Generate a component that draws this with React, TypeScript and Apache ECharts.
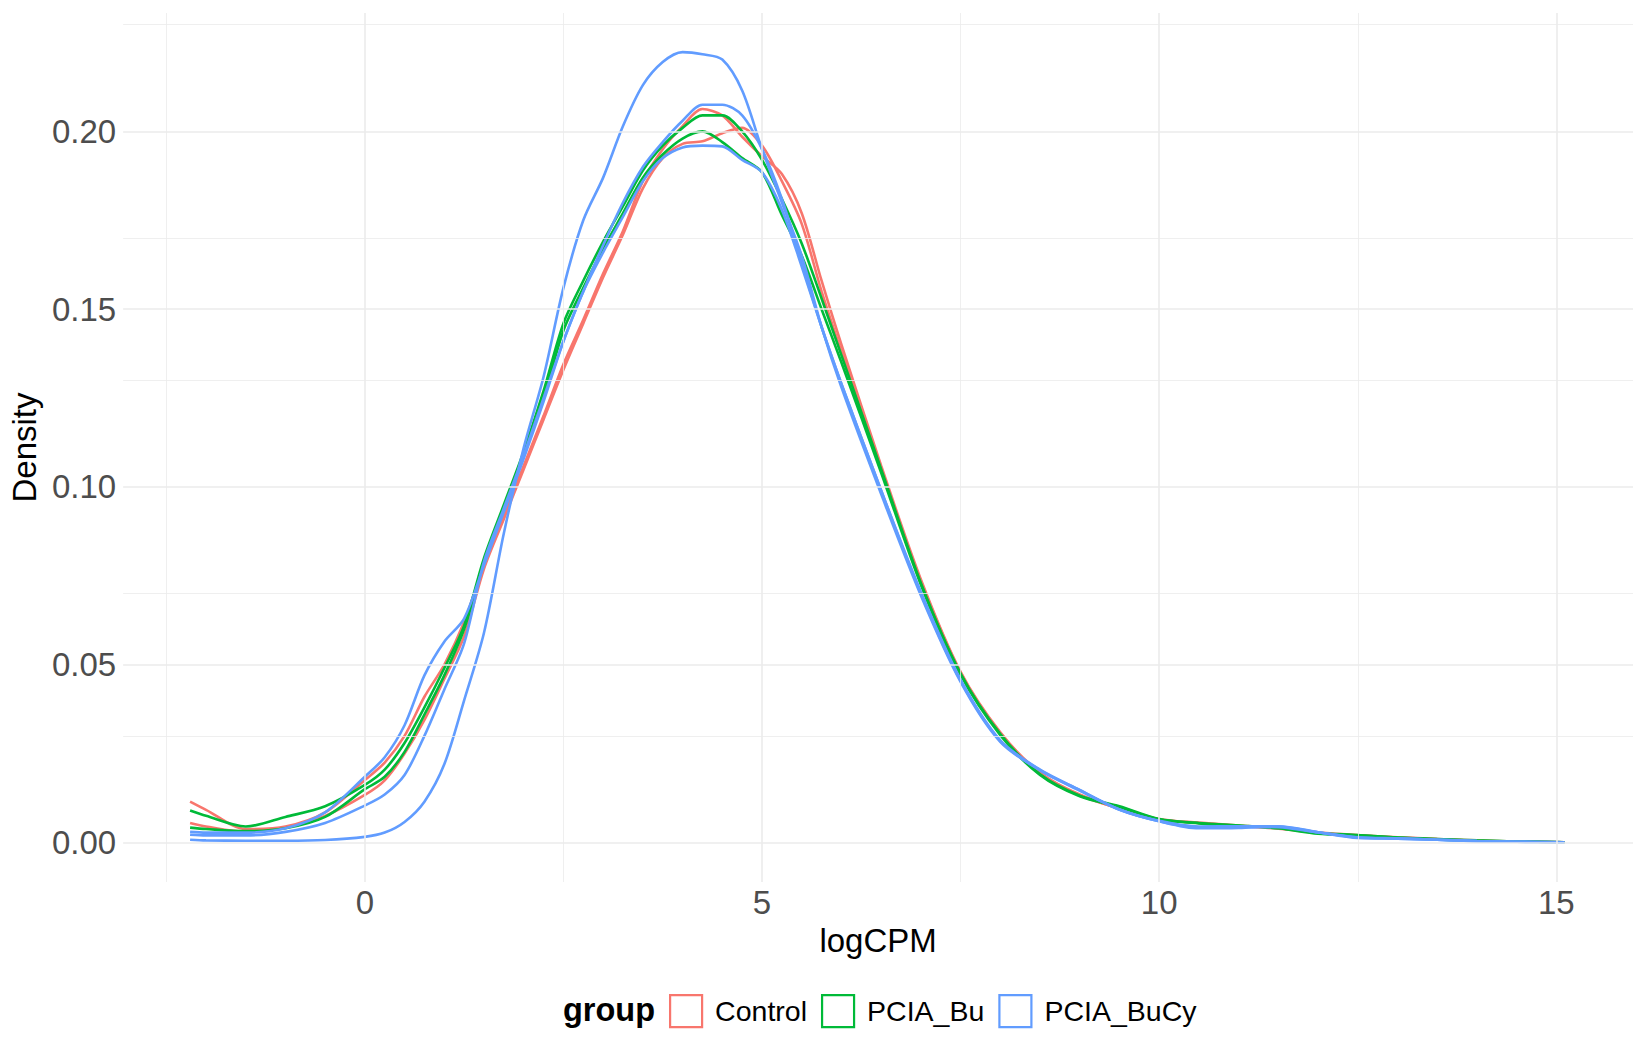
import React, { useEffect, useRef } from "react";
import * as echarts from "echarts";

// ---- data ----
const logCPM = [-2.2, -2, -1.5, -1, -0.5, 0, 0.25, 0.5, 0.75, 1, 1.25, 1.5, 1.75, 2, 2.25, 2.5, 2.75, 3, 3.25, 3.5, 3.75, 4, 4.25, 4.5, 4.75, 5, 5.25, 5.5, 5.75, 6, 6.5, 7, 7.5, 8, 8.5, 9, 9.5, 10, 10.5, 11, 11.5, 12, 12.5, 13, 13.5, 14, 14.5, 15.1];

const control1 = [0.0115, 0.0092, 0.0038, 0.0045, 0.0085, 0.0176, 0.0225, 0.030, 0.041, 0.050, 0.062, 0.078, 0.092, 0.106, 0.120, 0.1345, 0.147, 0.160, 0.172, 0.186, 0.195, 0.2015, 0.2063, 0.2045, 0.1985, 0.193, 0.188, 0.177, 0.158, 0.140, 0.106, 0.074, 0.048, 0.031, 0.0195, 0.0135, 0.0095, 0.0065, 0.0056, 0.0048, 0.0040, 0.0029, 0.0021, 0.0015, 0.0010, 0.0006, 0.0003, 0.0001];
const control2 = [0.0055, 0.0045, 0.0030, 0.0042, 0.0075, 0.0134, 0.0175, 0.025, 0.0345, 0.046, 0.058, 0.077, 0.091, 0.105, 0.119, 0.133, 0.146, 0.159, 0.171, 0.184, 0.1925, 0.1965, 0.1972, 0.1995, 0.201, 0.196, 0.186, 0.174, 0.155, 0.138, 0.105, 0.0735, 0.0478, 0.0308, 0.0197, 0.0133, 0.0096, 0.0066, 0.0055, 0.0047, 0.0039, 0.0027, 0.0020, 0.0014, 0.0010, 0.0005, 0.0003, 0.0001];
const bu1 = [0.0090, 0.0075, 0.0045, 0.0072, 0.0102, 0.0162, 0.0205, 0.028, 0.038, 0.049, 0.061, 0.080, 0.095, 0.110, 0.127, 0.146, 0.158, 0.169, 0.179, 0.189, 0.196, 0.201, 0.2045, 0.2045, 0.200, 0.192, 0.181, 0.1685, 0.153, 0.137, 0.105, 0.073, 0.0475, 0.0305, 0.0192, 0.0132, 0.0102, 0.0066, 0.0054, 0.0047, 0.0041, 0.0027, 0.0021, 0.0014, 0.0010, 0.0006, 0.0003, 0.0001];
const bu2 = [0.0042, 0.0038, 0.0032, 0.0040, 0.0072, 0.0150, 0.0185, 0.0255, 0.036, 0.047, 0.060, 0.079, 0.094, 0.109, 0.125, 0.144, 0.156, 0.167, 0.177, 0.187, 0.1935, 0.198, 0.200, 0.197, 0.1925, 0.1885, 0.1765, 0.165, 0.150, 0.135, 0.104, 0.0725, 0.0472, 0.0302, 0.0190, 0.0130, 0.0100, 0.0065, 0.0055, 0.0048, 0.0040, 0.0025, 0.0020, 0.0014, 0.0009, 0.0005, 0.0003, 0.0001];
const bucy1 = [0.0008, 0.0006, 0.0005, 0.0005, 0.0007, 0.0016, 0.0028, 0.0058, 0.0115, 0.022, 0.040, 0.059, 0.087, 0.111, 0.131, 0.156, 0.175, 0.187, 0.2015, 0.213, 0.2195, 0.2223, 0.2217, 0.2202, 0.2115, 0.195, 0.180, 0.165, 0.145, 0.128, 0.098, 0.0695, 0.0452, 0.0283, 0.0203, 0.0146, 0.0093, 0.0060, 0.0043, 0.0044, 0.0043, 0.0028, 0.0014, 0.0011, 0.0008, 0.0004, 0.0002, 0.0001];
const bucy2 = [0.0030, 0.0028, 0.0028, 0.0040, 0.0085, 0.0185, 0.024, 0.033, 0.047, 0.0565, 0.063, 0.078, 0.093, 0.108, 0.124, 0.141, 0.155, 0.168, 0.180, 0.190, 0.197, 0.203, 0.2075, 0.2075, 0.2045, 0.195, 0.181, 0.163, 0.145, 0.129, 0.099, 0.0705, 0.0458, 0.0287, 0.0205, 0.0148, 0.0092, 0.0061, 0.0045, 0.0046, 0.0045, 0.0029, 0.0015, 0.0012, 0.0008, 0.0004, 0.0002, 0.0001];
const bucy3 = [0.0022, 0.0020, 0.0020, 0.0030, 0.0055, 0.0104, 0.0135, 0.019, 0.030, 0.043, 0.056, 0.079, 0.094, 0.109, 0.125, 0.141, 0.155, 0.166, 0.176, 0.186, 0.1925, 0.1955, 0.196, 0.1958, 0.192, 0.1885, 0.178, 0.162, 0.145, 0.129, 0.099, 0.0700, 0.0455, 0.0285, 0.0204, 0.0147, 0.0093, 0.0060, 0.0040, 0.0041, 0.0046, 0.0029, 0.0013, 0.0011, 0.0008, 0.0004, 0.0002, 0.0001];

const groups = ["Control", "PCIA_Bu", "PCIA_BuCy"];
const groupColors = ["#F8766D", "#00BA38", "#619CFF"];
const samples = [
  { id: "c1", group: 0, values: control1 },
  { id: "c2", group: 0, values: control2 },
  { id: "b1", group: 1, values: bu1 },
  { id: "b2", group: 1, values: bu2 },
  { id: "y1", group: 2, values: bucy1 },
  { id: "y2", group: 2, values: bucy2 },
  { id: "y3", group: 2, values: bucy3 },
];

const xMajor = [0, 5, 10, 15];
const xMinor = [-2.5, 2.5, 7.5, 12.5];
const yMajor = [0, 0.05, 0.1, 0.15, 0.2];
const yMinor = [0.025, 0.075, 0.125, 0.175, 0.225];

const FONT = "Liberation Sans";

export default function App() {
  const ref = useRef<HTMLDivElement>(null);

  useEffect(() => {
    if (!ref.current) return;
    const chart = echarts.init(ref.current, null, { renderer: "svg", width: 1650, height: 1050 });

    const gridLines = [
      ...xMajor.map((v) => ({ xAxis: v, lineStyle: { width: 1.6 } })),
      ...xMinor.map((v) => ({ xAxis: v, lineStyle: { width: 0.8 } })),
      ...yMajor.map((v) => ({ yAxis: v, lineStyle: { width: 1.6 } })),
      ...yMinor.map((v) => ({ yAxis: v, lineStyle: { width: 0.8 } })),
    ];

    const option: any = {
      animation: false,
      backgroundColor: "#ffffff",
      grid: { left: 116, right: 17, top: 13, bottom: 168 },
      xAxis: {
        type: "value",
        min: -3.043,
        max: 15.965,
        name: "logCPM",
        nameLocation: "middle",
        nameGap: 26,
        nameTextStyle: { fontSize: 33, color: "#000000", fontFamily: FONT },
        axisLine: { show: false },
        axisTick: { show: false },
        splitLine: { show: false },
        axisLabel: {
          customValues: xMajor,
          fontSize: 33,
          color: "#4D4D4D",
          fontFamily: FONT,
          margin: 4,
        },
      },
      yAxis: {
        type: "value",
        min: -0.0111,
        max: 0.2333,
        name: "Density",
        nameLocation: "middle",
        nameGap: 76,
        nameTextStyle: { fontSize: 33, color: "#000000", fontFamily: FONT },
        axisLine: { show: false },
        axisTick: { show: false },
        splitLine: { show: false },
        axisLabel: {
          customValues: yMajor,
          formatter: (v: number) => v.toFixed(2),
          fontSize: 33,
          color: "#4D4D4D",
          fontFamily: FONT,
          margin: 7,
        },
      },
      legend: {
        left: 664,
        top: 989,
        orient: "horizontal",
        itemWidth: 32,
        itemHeight: 32,
        itemGap: 14,
        selectedMode: false,
        textStyle: { fontSize: 28.5, color: "#000000", fontFamily: FONT, padding: [0, 0, 0, 8] },
        data: groups.map((g, i) => ({
          name: g,
          icon: "rect",
          itemStyle: { color: "#ffffff", borderColor: groupColors[i], borderWidth: 2.2 },
        })),
      },
      graphic: [
        {
          type: "text",
          x: 563,
          y: 1010,
          style: {
            text: "group",
            fontSize: 32.5,
            fontWeight: "bold",
            fontFamily: FONT,
            fill: "#000000",
            verticalAlign: "middle",
          },
        },
      ],
      series: [
        {
          type: "line",
          name: "__grid",
          data: [],
          silent: true,
          z: 1,
          markLine: {
            silent: true,
            symbol: "none",
            label: { show: false },
            lineStyle: { color: "#EBEBEB", type: "solid" },
            emphasis: { disabled: true },
            data: gridLines,
          },
        },
        ...samples.map((s) => ({
          type: "line",
          id: s.id,
          name: groups[s.group],
          data: logCPM.map((x, i) => [x, s.values[i]]),
          smooth: 0.3,
          showSymbol: false,
          symbol: "none",
          z: 3,
          color: groupColors[s.group],
          lineStyle: { color: groupColors[s.group], width: 2.6 },
          emphasis: { disabled: true },
        })),
      ],
    };

    chart.setOption(option);
    return () => chart.dispose();
  }, []);

  return (
    <div
      ref={ref}
      style={{ position: "fixed", left: 0, top: 0, width: 1650, height: 1050, background: "#fff" }}
    />
  );
}
